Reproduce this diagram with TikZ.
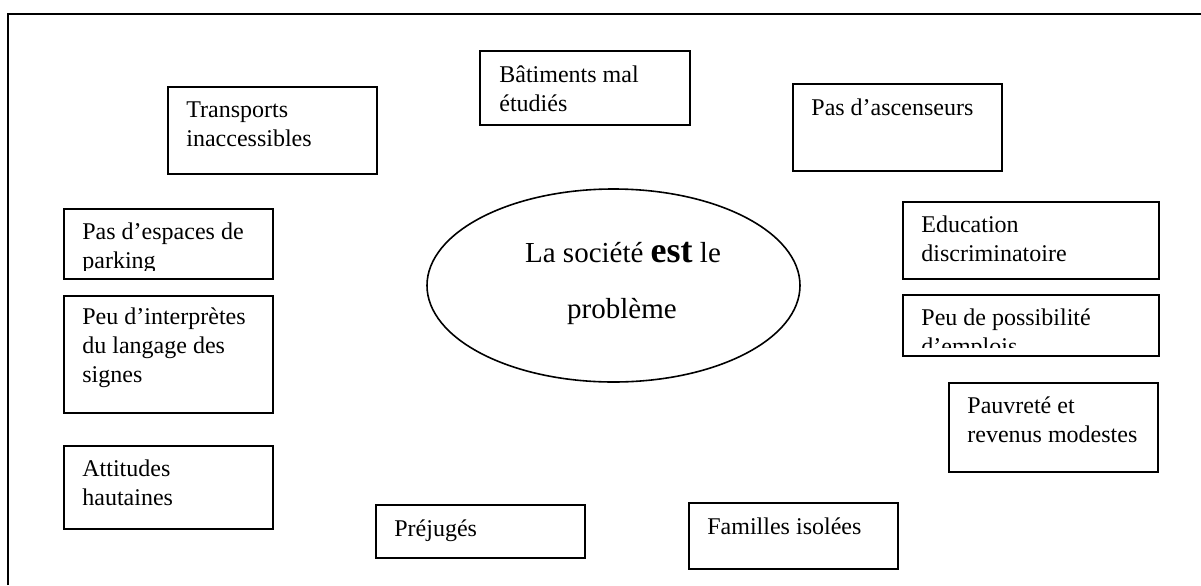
\documentclass[tikz,border=0pt]{standalone}
\usepackage{fontspec}
\setmainfont{Liberation Serif}
\usetikzlibrary{shapes.geometric}

\begin{document}
\begin{tikzpicture}[x=0.5pt, y=-0.5pt,
  cause/.style={rectangle, draw, line width=0.8pt, inner sep=0pt, anchor=north west},
  causetext/.style={anchor=base west, align=left, inner sep=0pt, font=\fontsize{12}{14.5}\selectfont},
  core/.style={ellipse, draw, line width=0.8pt, minimum width=186.5pt, minimum height=96.5pt, inner sep=0pt},
  coretext/.style={anchor=base, inner sep=0pt, font=\fontsize{14.5}{17}\selectfont}]

\useasboundingbox (0,0) rectangle (1201,585);
\draw[line width=0.8pt] (8,585) -- (8,14) -- (1201,14);

\node[core] (soc) at (613.5,285.5) {};
\node[coretext] (soc-a) at (623,262) {La société {\fontsize{18}{20}\selectfont\bfseries est} le};
\node[coretext] (soc-b) at (622,318) {problème};

% base of a multi-line text is its last line
\node[cause, minimum width=104.5pt, minimum height=43.5pt] (trans) at (167,86) {};
\node[causetext] (trans-t) at ([shift={(19,60)}]trans.north west) {Transports\\inaccessibles};

\node[cause, minimum width=105pt, minimum height=37pt] (bati) at (479,50) {};
\node[causetext] (bati-t) at ([shift={(20,61)}]bati.north west) {Bâtiments mal\\étudiés};

\node[cause, minimum width=104.5pt, minimum height=43.5pt] (asc) at (792,83) {};
\node[causetext] (asc-t) at ([shift={(19,32)}]asc.north west) {Pas d’ascenseurs};

\node[cause, minimum width=104.5pt, minimum height=35pt] (park) at (63,208) {};
\begin{scope}
  \clip (park.north west) rectangle ([yshift=4.5pt]park.south east);
  \node[causetext] (park-t) at ([shift={(19,60)}]park.north west) {Pas d’espaces de\\parking};
\end{scope}

\node[cause, minimum width=104.5pt, minimum height=58.5pt] (interp) at (63,295) {};
\node[causetext] (interp-t) at ([shift={(19,87)}]interp.north west) {Peu d’interprètes\\du langage des\\signes};

\node[cause, minimum width=104.5pt, minimum height=41.5pt] (attit) at (63,445) {};
\node[causetext] (attit-t) at ([shift={(19,60)}]attit.north west) {Attitudes\\hautaines};

\node[cause, minimum width=104.5pt, minimum height=26.5pt] (prej) at (375,504) {};
\node[causetext] (prej-t) at ([shift={(19,32)}]prej.north west) {Préjugés};

\node[cause, minimum width=104.5pt, minimum height=33pt] (famil) at (688,502) {};
\node[causetext] (famil-t) at ([shift={(19,32)}]famil.north west) {Familles isolées};

\node[cause, minimum width=128pt, minimum height=38.5pt] (educ) at (902,201) {};
\node[causetext] (educ-t) at ([shift={(19,60)}]educ.north west) {Education\\discriminatoire};

\node[cause, minimum width=128pt, minimum height=30.5pt] (emploi) at (902,294) {};
\begin{scope}
  \clip (emploi.north west) rectangle ([yshift=4.5pt]emploi.south east);
  \node[causetext] (emploi-t) at ([shift={(19,60)}]emploi.north west) {Peu de possibilité\\d’emplois};
\end{scope}

\node[cause, minimum width=104.5pt, minimum height=44.5pt] (pauv) at (948,382) {};
\node[causetext] (pauv-t) at ([shift={(19,60)}]pauv.north west) {Pauvreté et\\revenus modestes};

\end{tikzpicture}
\end{document}
